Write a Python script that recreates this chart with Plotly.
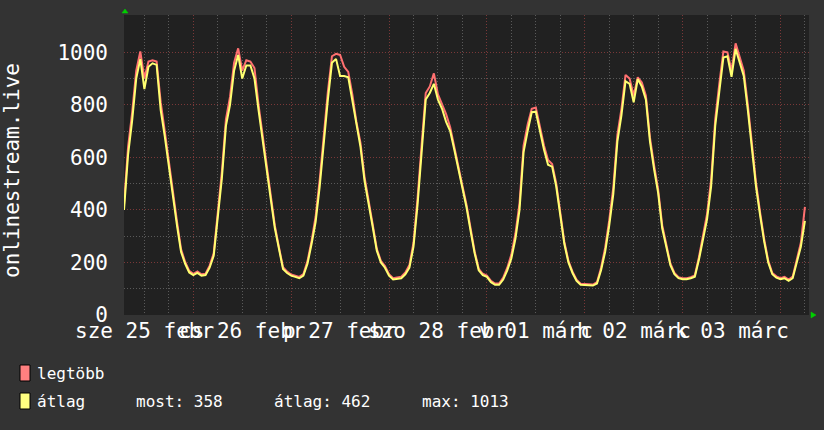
import pandas as pd
import plotly.graph_objects as go

# ---- data (hourly samples, starting 2015-02-25 07:00) ----
start_time = "2015-02-25 07:00"
avg_values = [
    400, 610, 740, 900, 975, 860, 945, 958, 952, 780, 680, 560, 440, 340, 240, 195, 162, 152, 160, 150, 152, 180, 225, 365,
    520, 720, 800, 930, 990, 900, 950, 950, 900, 780, 660, 560, 440, 330, 250, 175, 160, 150, 145, 140, 150, 195, 270, 355,
    490, 660, 820, 960, 975, 910, 910, 905, 820, 720, 640, 510, 430, 335, 245, 200, 180, 150, 135, 137, 140, 155, 180, 260,
    420, 620, 820, 845, 880, 820, 785, 735, 700, 630, 560, 480, 410, 320, 235, 170, 152, 145, 125, 115, 115, 135, 170, 215,
    290, 400, 620, 700, 772, 774, 700, 630, 572, 565, 490, 380, 270, 200, 160, 130, 115, 114, 113, 112, 120, 170, 240, 340,
    460, 660, 760, 890, 880, 810, 898, 870, 820, 660, 555, 465, 330, 255, 190, 155, 140, 136, 136, 140, 146, 210, 290, 365,
    490, 720, 850, 980, 985, 907, 1013, 960, 910, 780, 640, 490, 380, 280, 200, 155, 142, 136, 140, 130, 140, 200, 260, 358,
]
max_values = [
    420, 640, 770, 930, 1003, 900, 965, 970, 965, 810, 700, 580, 455, 355, 250, 202, 168, 157, 166, 155, 157, 188, 235, 385,
    545, 745, 830, 960, 1015, 930, 970, 965, 940, 800, 680, 575, 455, 340, 258, 182, 165, 154, 150, 145, 156, 205, 282, 375,
    515, 690, 850, 985, 994, 990, 945, 925, 840, 735, 655, 525, 440, 345, 252, 206, 186, 155, 140, 142, 146, 162, 190, 275,
    445, 650, 845, 870, 920, 840, 800, 765, 715, 645, 575, 492, 420, 330, 242, 176, 157, 150, 130, 120, 120, 142, 180, 230,
    310, 425, 645, 725, 785, 790, 715, 645, 590, 575, 502, 390, 278, 206, 165, 134, 119, 118, 117, 116, 125, 180, 255, 360,
    485, 685, 785, 914, 900, 835, 905, 885, 835, 675, 570, 478, 342, 262, 196, 160, 144, 140, 140, 144, 151, 220, 305, 385,
    515, 745, 880, 1003, 1000, 930, 1034, 980, 930, 800, 655, 505, 392, 290, 207, 160, 147, 140, 145, 135, 146, 210, 275, 412,
]
times = pd.date_range(start_time, periods=len(avg_values), freq="h")

day_label_dates = ["2015-02-25 12:00", "2015-02-26 12:00", "2015-02-27 12:00", "2015-02-28 12:00",
                   "2015-03-01 12:00", "2015-03-02 12:00", "2015-03-03 12:00"]
day_labels = ["sze 25 febr", "cs 26 febr", "p 27 febr", "szo 28 febr", "v 01 márc", "h 02 márc", "k 03 márc"]

y_title = "onlinestream.live"
legend_names = ["legtöbb", "átlag"]
stat_texts = ["most: 358", "átlag: 462", "max: 1013"]

RED = "#ff8080"
YEL = "#ffff80"
MONO = "DejaVu Sans Mono"

fig = go.Figure()
fig.add_trace(go.Scatter(x=times, y=max_values, mode="lines", line=dict(color="#ff7070", width=2),
                         name=legend_names[0]))
fig.add_trace(go.Scatter(x=times, y=avg_values, mode="lines", line=dict(color="#ffff70", width=2),
                         name=legend_names[1]))

fig.update_layout(
    width=824, height=430,
    margin=dict(l=124, r=15, t=15, b=115, autoexpand=False),
    paper_bgcolor="#333333", plot_bgcolor="#212121",
    showlegend=False,
    font=dict(family=MONO, color="#ffffff", size=21),
)
fig.update_xaxes(
    type="date", range=["2015-02-25 07:00", "2015-03-04 07:00"], automargin=False,
    tick0="2015-02-26", dtick=86400000, showticklabels=False, ticks="",
    showgrid=True, gridcolor="#7a3838", griddash="1px,2px", gridwidth=1,
    minor=dict(dtick=6 * 3600000, tick0="2015-02-26", showgrid=True, gridcolor="#5a5a5a", griddash="1px,2px"),
    zeroline=False, showline=False,
)
fig.update_yaxes(
    range=[0, 1142], tick0=0, dtick=200, ticks="", ticklabelstandoff=15, automargin=False,
    tickfont=dict(family=MONO, size=21, color="#ffffff"),
    showgrid=True, gridcolor="#7a3838", griddash="1px,2px", gridwidth=1,
    minor=dict(tickmode="array", tickvals=[100, 300, 500, 700, 900], showgrid=True,
               gridcolor="#5a5a5a", griddash="1px,2px"),
    zeroline=False, showline=False,
)

LEG = 16
annotations = []
for d, t in zip(day_label_dates, day_labels):
    annotations.append(dict(x=d, y=0, xref="x", yref="paper", text=t, showarrow=False,
                            xanchor="center", yanchor="middle", yshift=-16,
                            font=dict(family=MONO, size=21, color="#ffffff")))
annotations.append(dict(x=0, y=0.5, xref="paper", yref="paper", text=y_title, showarrow=False,
                        textangle=-90, xanchor="center", yanchor="middle", xshift=-112, yshift=-6,
                        font=dict(family=MONO, size=21, color="#ffffff")))
# legend text
annotations.append(dict(x=0, y=0, xref="paper", yref="paper", text=legend_names[0], showarrow=False,
                        xanchor="left", yanchor="middle", xshift=-89, yshift=-58,
                        font=dict(family=MONO, size=LEG, color="#ffffff")))
annotations.append(dict(x=0, y=0, xref="paper", yref="paper", text=legend_names[1], showarrow=False,
                        xanchor="left", yanchor="middle", xshift=-89, yshift=-86,
                        font=dict(family=MONO, size=LEG, color="#ffffff")))
for txt, xs in zip(stat_texts, [55.5, 198, 341]):
    annotations.append(dict(x=0, y=0, xref="paper", yref="paper", text=txt, showarrow=False,
                            xanchor="center", yanchor="middle", xshift=xs, yshift=-86,
                            font=dict(family=MONO, size=LEG, color="#ffffff")))
fig.update_layout(annotations=annotations)

shapes = [
    # legend swatches
    dict(type="rect", xref="paper", yref="paper", xsizemode="pixel", ysizemode="pixel",
         xanchor=0, yanchor=0, x0=-104, x1=-94, y0=-50, y1=-66,
         fillcolor=RED, line=dict(color="#000000", width=1)),
    dict(type="rect", xref="paper", yref="paper", xsizemode="pixel", ysizemode="pixel",
         xanchor=0, yanchor=0, x0=-104, x1=-94, y0=-78, y1=-94,
         fillcolor=YEL, line=dict(color="#000000", width=1)),
    # axis arrows
    dict(type="path", xref="paper", yref="paper", xsizemode="pixel", ysizemode="pixel",
         xanchor=0, yanchor=1, path="M -2,2 L 4,2 L 1,6 Z",
         fillcolor="#00d000", line=dict(color="#00d000", width=0.5)),
    dict(type="path", xref="paper", yref="paper", xsizemode="pixel", ysizemode="pixel",
         xanchor=1, yanchor=0, path="M 2,3 L 2,-3 L 7,0 Z",
         fillcolor="#00d000", line=dict(color="#00d000", width=0.5)),
]
fig.update_layout(shapes=shapes)

fig.write_html("out.html", config={"displayModeBar": False},
               post_script="document.body.style.margin='0';document.body.style.background='#333333';")
